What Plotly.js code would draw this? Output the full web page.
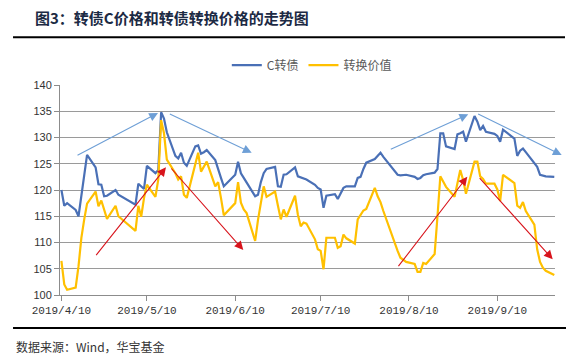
<!DOCTYPE html>
<html>
<head>
<meta charset="utf-8">
<script src="https://cdn.plot.ly/plotly-3.0.1.min.js"></script>
<style>html,body{margin:0;padding:0;background:#fff;}#chart{width:578px;height:356px;}</style>
</head>
<body>
<div id="chart"></div>
<script>
const dates = [
 '2019-04-10','2019-04-11','2019-04-12','2019-04-15','2019-04-16','2019-04-17','2019-04-18','2019-04-19',
 '2019-04-22','2019-04-23','2019-04-24','2019-04-25','2019-04-26','2019-04-29','2019-04-30',
 '2019-05-06','2019-05-07','2019-05-08','2019-05-09','2019-05-10','2019-05-13','2019-05-14','2019-05-15','2019-05-16','2019-05-17',
 '2019-05-20','2019-05-21','2019-05-22','2019-05-23','2019-05-24','2019-05-27','2019-05-28','2019-05-29','2019-05-30','2019-05-31',
 '2019-06-03','2019-06-04','2019-06-05','2019-06-06','2019-06-10','2019-06-11','2019-06-12','2019-06-13','2019-06-14',
 '2019-06-17','2019-06-18','2019-06-19','2019-06-20','2019-06-21','2019-06-24','2019-06-25','2019-06-26','2019-06-27','2019-06-28',
 '2019-07-01','2019-07-02','2019-07-03','2019-07-04','2019-07-05','2019-07-08','2019-07-09','2019-07-10','2019-07-11','2019-07-12',
 '2019-07-15','2019-07-16','2019-07-17','2019-07-18','2019-07-19','2019-07-22','2019-07-23','2019-07-24','2019-07-25','2019-07-26',
 '2019-07-29','2019-07-30','2019-07-31','2019-08-01','2019-08-02','2019-08-05','2019-08-06','2019-08-07','2019-08-08','2019-08-09',
 '2019-08-12','2019-08-13','2019-08-14','2019-08-15','2019-08-16','2019-08-19','2019-08-20','2019-08-21','2019-08-22','2019-08-23',
 '2019-08-26','2019-08-27','2019-08-28','2019-08-29','2019-08-30','2019-09-02','2019-09-03','2019-09-04','2019-09-05','2019-09-06',
 '2019-09-09','2019-09-10','2019-09-11','2019-09-12','2019-09-16','2019-09-17','2019-09-18','2019-09-19','2019-09-20',
 '2019-09-23','2019-09-24','2019-09-25','2019-09-26','2019-09-27','2019-09-30'
];
const bondPrice = [
 120.0,117.0,117.5,116.2,115.0,119.0,123.0,126.7,
 124.3,121.1,121.0,118.8,118.9,120.0,119.1,
 117.2,121.2,120.7,120.2,124.6,123.2,123.8,134.8,133.6,131.0,
 126.5,126.0,127.1,125.2,124.6,128.3,128.5,126.9,127.2,127.6,
 125.7,123.8,122.3,120.7,122.9,125.4,123.2,122.3,121.4,
 118.8,119.1,121.5,123.2,124.0,124.4,120.7,120.6,122.9,123.0,
 124.3,122.6,122.4,122.2,122.0,121.0,120.4,120.1,116.6,118.9,
 119.2,118.3,119.5,120.4,120.7,120.7,122.3,122.5,124.0,125.2,
 125.9,126.5,127.1,126.3,125.6,123.5,122.9,122.8,122.8,122.9,
 122.5,122.1,122.3,122.8,123.0,123.3,124.0,130.8,130.8,128.3,
 127.8,130.6,130.8,131.1,129.2,134.1,133.0,131.4,132.2,131.1,
 130.7,130.3,129.2,131.5,129.8,126.5,127.5,127.9,127.2,
 125.2,124.4,122.9,122.7,122.6,122.5
];
const convValue = [
 106.5,102.0,101.0,101.4,105.5,110.9,114.4,117.4,
 119.7,116.9,118.0,116.0,114.5,117.0,115.0,
 112.2,117.0,114.9,118.5,121.0,118.7,122.0,133.3,130.8,125.8,
 123.2,122.0,122.6,119.1,118.5,125.1,127.1,123.5,124.5,125.4,
 120.7,121.5,118.5,115.2,117.5,121.5,117.6,116.3,115.6,
 110.3,114.3,117.5,120.7,118.7,119.7,117.0,114.4,116.3,114.9,
 118.9,115.3,113.1,113.8,113.6,110.6,108.7,108.4,104.9,110.9,
 110.9,109.0,109.3,111.5,110.8,109.8,114.4,115.3,116.1,116.4,
 120.4,118.8,117.7,116.0,114.4,110.0,108.4,107.1,106.7,106.3,
 105.9,104.4,104.4,106.1,105.9,107.8,115.0,122.6,121.6,120.6,
 118.7,121.3,123.8,121.9,119.3,125.4,125.4,122.6,122.1,121.2,
 121.2,120.1,117.9,122.9,121.3,117.0,116.6,117.7,116.0,
 113.4,108.7,106.3,105.2,104.6,103.8
];
const tickDates = ['2019-04-10','2019-05-10','2019-06-10','2019-07-10','2019-08-10','2019-09-10'];
const tickLabels = ['2019/4/10','2019/5/10','2019/6/10','2019/7/10','2019/8/10','2019/9/10'];
const seriesNames = ['C转债','转换价值'];

const cjk = '"Noto Sans CJK SC", sans-serif';
const traces = [
 {x: dates, y: bondPrice, name: seriesNames[0], type: 'scatter', mode: 'lines',
  line: {color: '#4a70b6', width: 2.2}},
 {x: dates, y: convValue, name: seriesNames[1], type: 'scatter', mode: 'lines',
  line: {color: '#ffc000', width: 2.2}}
];

function arrow(x, y, ax, ay, color) {
  return {xref: 'paper', yref: 'paper', x: x, y: y, ax: ax, ay: ay, text: '',
          showarrow: true, arrowhead: 2, arrowsize: 1.6, arrowwidth: 1.1, arrowcolor: color, standoff: 0};
}
const lightBlue = '#6e9fd6', red = '#d8141c';

const layout = {
  width: 578, height: 356,
  margin: {l: 60, r: 23, t: 85, b: 61},
  paper_bgcolor: '#fff', plot_bgcolor: '#fff',
  showlegend: true,
  title: {text: '<b>图3：转债C价格和转债转换价格的走势图</b>', xref: 'container', yref: 'container',
          x: 35/578, xanchor: 'left', y: 1 - 19/356, yanchor: 'middle',
          font: {family: cjk, size: 15, color: '#1c2a44'}},
  legend: {orientation: 'h', x: 0.337, xanchor: 'left', y: 1.095, yanchor: 'middle',
           font: {family: cjk, size: 12, color: '#595959'}, itemwidth: 30, bgcolor: 'rgba(0,0,0,0)'},
  xaxis: {type: 'date', range: ['2019-04-09 12:00', '2019-09-30 06:00'],
          tickmode: 'array', tickvals: tickDates, ticktext: tickLabels,
          ticks: 'outside', ticklen: 5, tickcolor: '#8c8c8c', showgrid: false,
          showline: true, linecolor: '#8c8c8c', linewidth: 1, zeroline: false,
          tickfont: {family: '"Liberation Mono", monospace', size: 11, color: '#333'}},
  yaxis: {range: [100, 140], dtick: 5, tick0: 100, ticks: 'outside', ticklen: 5, tickcolor: '#8c8c8c',
          showgrid: true, gridcolor: '#9a9a9a', gridwidth: 1, showline: true, linecolor: '#8c8c8c',
          zeroline: false, tickfont: {family: '"Liberation Sans", Arial, sans-serif', size: 11, color: '#333'}},
  shapes: [
    {type: 'line', xref: 'paper', yref: 'paper', x0: -0.0949, x1: 1.0202, y0: 1.227, y1: 1.227,
     line: {color: '#000', width: 2}},
    {type: 'line', xref: 'paper', yref: 'paper', x0: -0.0949, x1: 1.0222, y0: -0.157, y1: -0.157,
     line: {color: '#000', width: 2}}
  ],
  annotations: [
    arrow(0.198, 0.8667, -82, 43, lightBlue),
    arrow(0.3873, 0.6776, -83.4, -39.4, lightBlue),
    arrow(0.8248, 0.8605, -79, 35.7, lightBlue),
    arrow(1.0135, 0.6667, -85, -41.7, lightBlue),
    arrow(0.2141, 0.6081, -71, 89.4, red),
    arrow(0.3703, 0.2143, -73.3, -83, red),
    arrow(0.8228, 0.5633, -70, 91, red),
    arrow(0.9954, 0.17, -74.4, -82.6, red),
    {xref: 'paper', yref: 'paper', x: -0.0929, xanchor: 'left', y: -0.2429, yanchor: 'middle',
     text: '数据来源：Wind，华宝基金', showarrow: false, font: {family: cjk, size: 12, color: '#333'}}
  ]
};
Plotly.newPlot('chart', traces, layout, {displayModeBar: false, staticPlot: true});
</script>
</body>
</html>
